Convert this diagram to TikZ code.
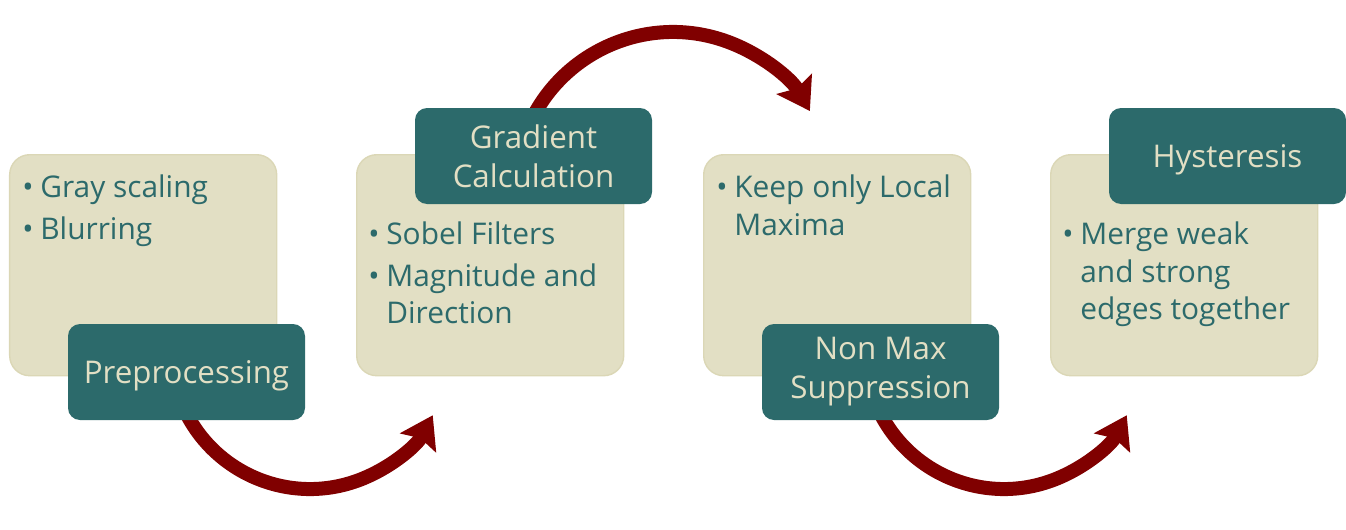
\documentclass[tikz,border=0pt]{standalone}
\usepackage{fontspec}
\setmainfont{Open Sans}
\usetikzlibrary{arrows.meta}
\definecolor{stagebeige}{RGB}{226,223,196}
\definecolor{stageedge}{RGB}{219,215,182}
\definecolor{stageteal}{RGB}{44,106,107}
\definecolor{arrowred}{RGB}{128,0,0}
\tikzset{
  stage-box/.style={
    rounded corners=0.4cm,
    fill=stagebeige,
    draw=stageedge,
    line width=0.8pt,
    minimum width=5.34cm,
    minimum height=4.42cm,
    inner sep=0pt,
    anchor=north west
  },
  stage-label/.style={
    rounded corners=0.24cm,
    fill=stageteal,
    text=stagebeige,
    minimum width=4.74cm,
    minimum height=1.92cm,
    inner sep=0pt,
    align=center,
    font=\fontsize{17.8}{22.2}\selectfont
  },
  one-line/.style={text depth=0pt},
  stage-text/.style={
    text=stageteal,
    align=left,
    inner sep=0pt,
    anchor=north west,
    font=\fontsize{17}{21.6}\selectfont
  },
  flow-arrow/.style={
    draw=arrowred,
    line width=0.28cm,
    -{Stealth[length=0.62cm,width=0.8cm,inset=0.1cm]}
  }
}
\newcommand{\itm}{\makebox[0.36cm][l]{\textbullet}}
\newcommand{\cnt}{\hspace*{0.36cm}}

\begin{document}
\begin{tikzpicture}
  \useasboundingbox (0,0) rectangle (26.92,10.58);
  % Stage cards
  \node[stage-box] (card1) at (0.18,7.5) {};
  \node[stage-box] (card2) at (7.12,7.5) {};
  \node[stage-box] (card3) at (14.06,7.5) {};
  \node[stage-box] (card4) at (21.0,7.5) {};
  % Card contents
  \node[stage-text] (items1) at (0.44,7.1) {\itm Gray scaling\\[0.08cm]\itm Blurring};
  \node[stage-text] (items2) at (7.36,6.16) {\itm Sobel Filters\\[0.08cm]\itm Magnitude and\\\cnt Direction};
  \node[stage-text] (items3) at (14.32,7.1) {\itm Keep only Local\\\cnt Maxima};
  \node[stage-text] (items4) at (21.24,6.16) {\itm Merge weak\\\cnt and strong\\\cnt edges together};
  % Flow arrows
  \coordinate (pre-out) at (3.588,2.629);
  \coordinate (grad-out) at (10.491,7.861);
  \coordinate (nms-out) at (17.468,2.629);
  \draw[flow-arrow] (pre-out) arc[start angle=200, end angle=332, radius=2.78];
  \draw[flow-arrow] (grad-out) arc[start angle=160, end angle=30, radius=3.16];
  \draw[flow-arrow] (nms-out) arc[start angle=200, end angle=332, radius=2.78];
  % Stage labels
  \node[stage-label, one-line] (pre) at (3.73,3.14) {Preprocessing};
  \node[stage-label] (grad) at (10.67,7.46) {Gradient\\Calculation};
  \node[stage-label] (nms) at (17.61,3.14) {Non Max\\Suppression};
  \node[stage-label, one-line] (hyst) at (24.55,7.46) {Hysteresis};
\end{tikzpicture}
\end{document}
